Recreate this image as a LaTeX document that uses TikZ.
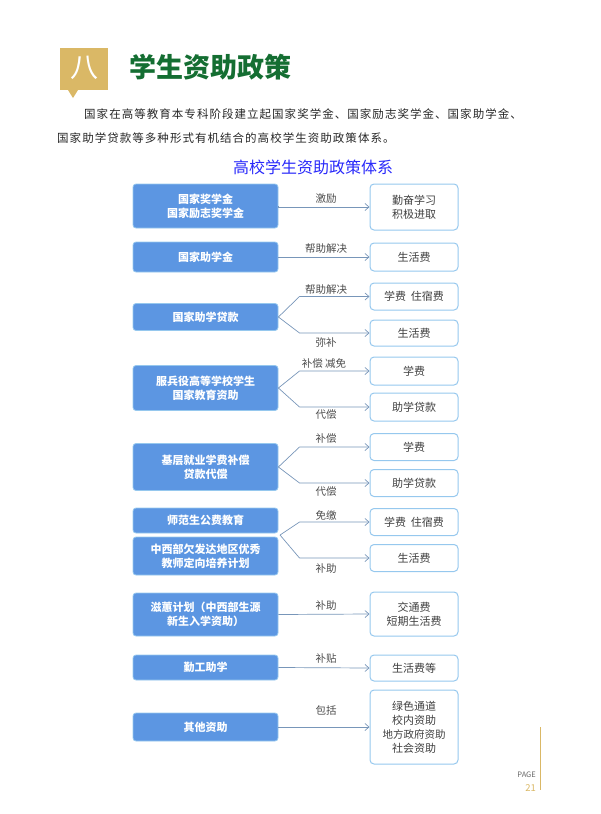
\documentclass[tikz,border=0pt]{standalone}
\usepackage{fontspec}
\setmainfont{Noto Sans CJK SC}
\usetikzlibrary{calc,arrows.meta}
\definecolor{boxblue}{RGB}{92,150,226}
\definecolor{edgeblue}{RGB}{150,200,238}
\definecolor{linkgray}{RGB}{120,150,185}
\definecolor{gold}{RGB}{218,184,102}
\definecolor{titlegreen}{RGB}{20,110,50}
\definecolor{subblue}{RGB}{40,40,250}
\begin{document}
\begin{tikzpicture}
[x=1pt, y=1pt,
 lbox/.style={rounded corners=3pt, fill=boxblue, draw=edgeblue, line width=0.8pt, minimum width=145pt, text=white, font=\fontsize{11}{14}\selectfont\bfseries, align=center, inner sep=0pt},
 rbox/.style={rounded corners=4pt, fill=white, draw=edgeblue, line width=1pt, minimum width=88pt, text=black!75, font=\fontsize{11}{14}\selectfont, align=center, inner sep=0pt},
 lnk/.style={draw=linkgray, line width=0.7pt, ->, >={Straight Barb[length=4pt,width=7pt]}},
 tag/.style={font=\fontsize{10.5}{12}\selectfont, text=black!70}]
\useasboundingbox (0,0) rectangle (600,-814);
% heading
\fill[gold] (60,-48) rectangle (108,-90);
\fill[gold] (68,-90) -- (78,-90) -- (73,-98) -- cycle;
\node (num) at (84,-68) {\fontsize{28}{30}\selectfont\color{white}八};
\node (title) [anchor=west] at (126,-67) {\fontsize{27}{30}\selectfont\bfseries\color{titlegreen}学生资助政策};
\node (par1) [anchor=west, inner sep=0pt] at (84,-114) {\fontsize{11.5}{14}\selectfont\addfontfeatures{LetterSpace=9}\color{black!85}国家在高等教育本专科阶段建立起国家奖学金、国家励志奖学金、国家助学金、};
\node (par2) [anchor=west, inner sep=0pt] at (57,-138) {\fontsize{11.5}{14}\selectfont\addfontfeatures{LetterSpace=9}\color{black!85}国家助学贷款等多种形式有机结合的高校学生资助政策体系。};
\node (sub) at (313,-167) {\fontsize{16}{18}\selectfont\color{subblue}高校学生资助政策体系};
% left boxes
\node (l1) [lbox, minimum height=44pt] at (205.5,-206) {国家奖学金\\国家励志奖学金};
\node (l2) [lbox, minimum height=30pt] at (205.5,-257) {国家助学金};
\node (l3) [lbox, minimum height=27pt] at (205.5,-317) {国家助学贷款};
\node (l4) [lbox, minimum height=45pt] at (205.5,-388) {服兵役高等学校学生\\国家教育资助};
\node (l5) [lbox, minimum height=47pt] at (205.5,-467) {基层就业学费补偿\\贷款代偿};
\node (l6a) [lbox, minimum height=25pt] at (205.5,-520.5) {师范生公费教育};
\node (l6b) [lbox, minimum height=38pt] at (205.5,-556) {中西部欠发达地区优秀\\教师定向培养计划};
\node (l7) [lbox, minimum height=43pt] at (205.5,-614.5) {滋蕙计划（中西部生源\\新生入学资助）};
\node (l8) [lbox, minimum height=25pt] at (205.5,-667.5) {勤工助学};
\node (l9) [lbox, minimum height=28pt] at (205.5,-727) {其他资助};
% right boxes
\node (r1) [rbox, minimum height=46pt] at (414,-207) {勤奋学习\\积极进取};
\node (r2) [rbox, minimum height=28pt] at (414,-257) {生活费};
\node (r3a) [rbox, minimum height=27pt] at (414,-296.5) {学费\ \ 住宿费};
\node (r3b) [rbox, minimum height=26pt] at (414,-333) {生活费};
\node (r4a) [rbox, minimum height=28pt] at (414,-371) {学费};
\node (r4b) [rbox, minimum height=28pt] at (414,-407) {助学贷款};
\node (r5a) [rbox, minimum height=27pt] at (414,-447) {学费};
\node (r5b) [rbox, minimum height=27pt] at (414,-483) {助学贷款};
\node (r6a) [rbox, minimum height=27pt] at (414,-522) {学费\ \ 住宿费};
\node (r6b) [rbox, minimum height=27pt] at (414,-558) {生活费};
\node (r7) [rbox, minimum height=44pt] at (414,-614) {交通费\\短期生活费};
\node (r8) [rbox, minimum height=26pt] at (414,-668) {生活费等};
\node (r9) [rbox, minimum height=74pt] at (414,-727) {绿色通道\\校内资助\\{\fontsize{10.5}{13}\selectfont 地方政府资助}\\社会资助};
% connectors
\coordinate (b6) at (280,-535);
\draw[lnk] (l1.east) -- (l1.east |- r1.west) -- (r1.west);
\draw[lnk] (l2.east) -- (r2.west);
\draw[lnk] (l3.east) -- ($(r3a.west)+(-70,0)$) -- (r3a.west);
\draw[lnk] (l3.east) -- ($(r3b.west)+(-70,0)$) -- (r3b.west);
\draw[lnk] (l4.east) -- ($(r4a.west)+(-70,0)$) -- (r4a.west);
\draw[lnk] (l4.east) -- ($(r4b.west)+(-70,0)$) -- (r4b.west);
\draw[lnk] (l5.east) -- ($(r5a.west)+(-70,0)$) -- (r5a.west);
\draw[lnk] (l5.east) -- ($(r5b.west)+(-70,0)$) -- (r5b.west);
\draw[lnk] (b6) -- ($(r6a.west)+(-70,0)$) -- (r6a.west);
\draw[lnk] (b6) -- ($(r6b.west)+(-70,0)$) -- (r6b.west);
\draw[lnk] (l7.east) -- (r7.west);
\draw[lnk] (l8.east) -- (r8.west);
\draw[lnk] (l9.east) -- (r9.west);
% labels
\node (t1) [tag] at (326,-199) {激励};
\node (t2) [tag] at (326,-249) {帮助解决};
\node (t3a) [tag] at (326,-290) {帮助解决};
\node (t3b) [tag] at (326,-342) {弥补};
\node (t4a) [tag] at (324,-364) {补偿\ 减免};
\node (t4b) [tag] at (326,-414) {代偿};
\node (t5a) [tag] at (326,-438) {补偿};
\node (t5b) [tag] at (326,-491) {代偿};
\node (t6a) [tag] at (326,-515) {免缴};
\node (t6b) [tag] at (326,-569) {补助};
\node (t7) [tag] at (326,-606) {补助};
\node (t8) [tag] at (326,-659) {补贴};
\node (t9) [tag] at (326,-710) {包括};
% page mark
\draw[gold, line width=0.8pt] (540,-727) -- (540,-790);
\node (pg) [anchor=east, inner sep=0pt] at (536,-775) {\fontsize{7.5}{9}\selectfont\color{black!60}PAGE};
\node (pgn) [anchor=east, inner sep=0pt] at (536,-788) {\fontsize{9.5}{11}\selectfont\color{gold}21};
\end{tikzpicture}
\end{document}
